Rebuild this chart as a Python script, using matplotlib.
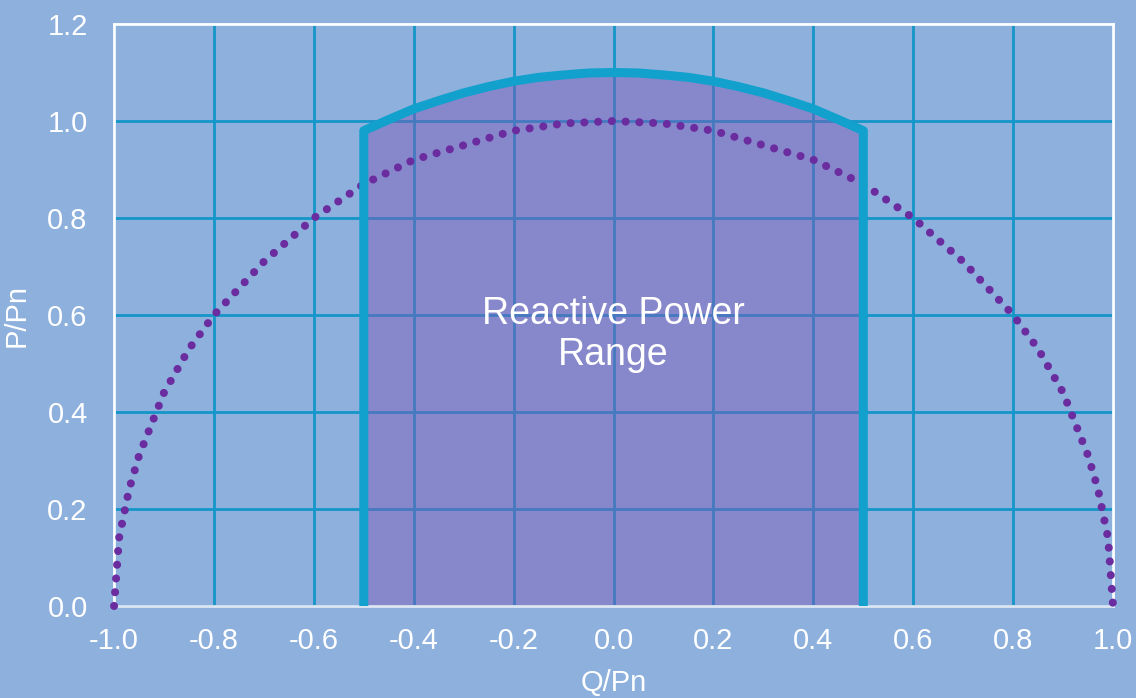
import numpy as np
import matplotlib.pyplot as plt

# unit circle (dotted)
circle_q = [-1.0, -0.99, -0.97, -0.95, -0.9, -0.85, -0.8, -0.7, -0.6, -0.5, -0.4, -0.3, -0.2, -0.1, 0.0,
            0.1, 0.2, 0.3, 0.4, 0.5, 0.6, 0.7, 0.8, 0.85, 0.9, 0.95, 0.97, 0.99, 1.0]
circle_p = [0.0, 0.14, 0.24, 0.31, 0.44, 0.53, 0.60, 0.71, 0.80, 0.87, 0.92, 0.95, 0.98, 0.995, 1.0,
            0.995, 0.98, 0.95, 0.92, 0.87, 0.80, 0.71, 0.60, 0.53, 0.44, 0.31, 0.24, 0.14, 0.0]

# reactive power range boundary
range_q = [-0.5, -0.5, -0.45, -0.4, -0.35, -0.3, -0.25, -0.2, -0.15, -0.1, -0.05, 0.0,
           0.05, 0.1, 0.15, 0.2, 0.25, 0.3, 0.35, 0.4, 0.45, 0.5, 0.5]
range_p = [0.0, 0.98, 1.003, 1.025, 1.042, 1.058, 1.071, 1.082, 1.090, 1.095, 1.099, 1.1,
           1.099, 1.095, 1.090, 1.082, 1.071, 1.058, 1.042, 1.025, 1.003, 0.98, 0.0]

xticks = [-1.0, -0.8, -0.6, -0.4, -0.2, 0.0, 0.2, 0.4, 0.6, 0.8, 1.0]
yticks = [0.0, 0.2, 0.4, 0.6, 0.8, 1.0, 1.2]

bg = '#8db0dd'
plt.rcParams['font.family'] = ['Liberation Sans', 'DejaVu Sans']

fig = plt.figure(figsize=(11.36, 6.98), dpi=100, facecolor=bg)
ax = fig.add_axes([0.1004, 0.1318, 0.8794, 0.8338], facecolor=bg)

ax.set_xlim(-1.0, 1.0)
ax.set_ylim(0.0, 1.2)
ax.set_xticks(xticks)
ax.set_yticks(yticks)
ax.set_xticklabels(['%.1f' % v for v in xticks])
ax.set_yticklabels(['%.1f' % v for v in yticks])
ax.tick_params(length=0, labelsize=21, labelcolor='white')
ax.tick_params(axis='y', pad=19)
ax.tick_params(axis='x', pad=15)
ax.grid(True, color='#1496c8', linewidth=2)
ax.set_axisbelow(True)
for s in ax.spines.values():
    s.set_color('white')
    s.set_linewidth(2)
ax.spines['bottom'].set_color('#dde6f2')

ax.fill_between(range_q, range_p, 0, color='#8156b8', alpha=0.45, linewidth=0, zorder=2)
ax.plot(circle_q, circle_p, color='#6a2c9e', linewidth=5.8,
        linestyle=(0, (0.01, 1.7)), dash_capstyle='round', zorder=3, clip_on=False)
ax.plot(range_q, range_p, color='#12a0cc', linewidth=6.5, solid_joinstyle='round', zorder=4)

ax.text(0.0, 0.56, 'Reactive Power\nRange', color='white', fontsize=27,
        ha='center', va='center', linespacing=1.15, zorder=5)

ax.set_xlabel('Q/Pn', color='white', fontsize=21, labelpad=10)
ax.set_ylabel('P/Pn', color='white', fontsize=21, labelpad=12)

fig.savefig('out.png', dpi=100, facecolor=bg)
